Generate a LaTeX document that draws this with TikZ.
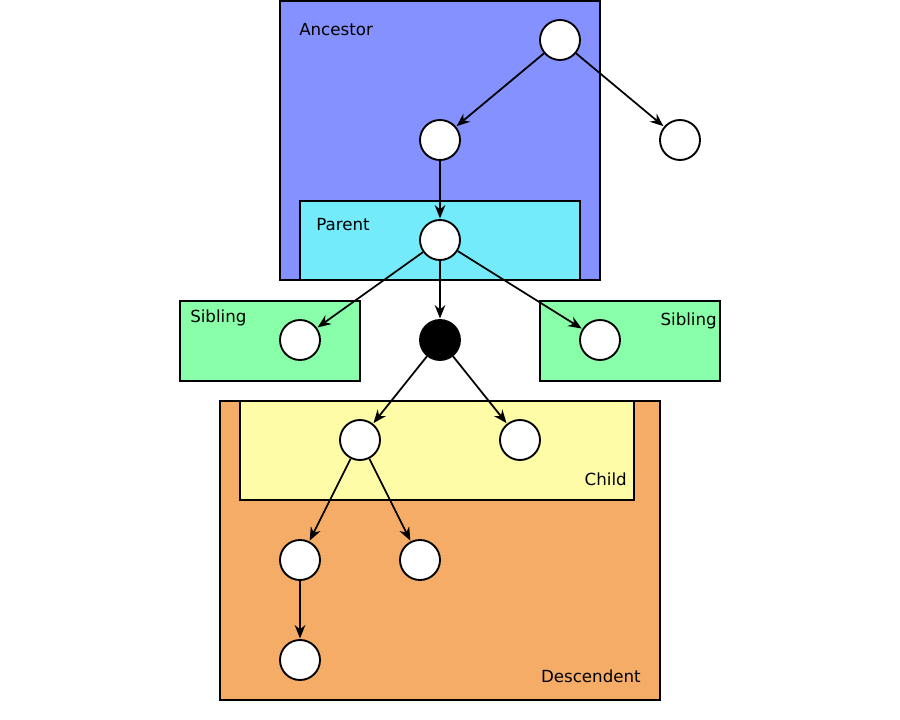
\documentclass[tikz,border=0pt]{standalone}
\usepackage{fontspec}
\setmainfont{DejaVu Sans}
\usetikzlibrary{arrows.meta}
\definecolor{ancestorc}{HTML}{8591FF}
\definecolor{parentc}{HTML}{73EBFB}
\definecolor{siblingc}{HTML}{88FFA8}
\definecolor{descc}{HTML}{F4AC66}
\definecolor{childc}{HTML}{FFFCA8}
\begin{document}
\begin{tikzpicture}[x=0.75pt,y=-0.75pt,
  region/.style={draw=black,line width=1.5pt},
  vert/.style={circle,draw=black,fill=white,line width=1.4pt,minimum size=30pt,inner sep=0pt},
  blackvert/.style={vert,fill=black},
  lbl/.style={font=\fontsize{12.5}{15}\selectfont,inner sep=0pt},
  edge/.style={-{Stealth[length=10pt,width=8pt]},line width=1.3pt,shorten >=0.5pt}]
\useasboundingbox (0,0) rectangle (900,720);
% regions
\draw[region,fill=ancestorc] (280,1) rectangle (600,280);
\draw[region,fill=parentc] (300,201) rectangle (580,280);
\draw[region,fill=siblingc] (180,301) rectangle (360,381);
\draw[region,fill=siblingc] (540,301) rectangle (720,381);
\draw[region,fill=descc] (220,401) rectangle (660,700);
\draw[region,fill=childc] (240,401) rectangle (634,500);
% labels
\node[lbl,anchor=west] (lanc) at (299,30) {Ancestor};
\node[lbl,anchor=west] (lpar) at (316,225) {Parent};
\node[lbl,anchor=west] (lsib1) at (190,318) {Sibling};
\node[lbl,anchor=east] (lsib2) at (717,321) {Sibling};
\node[lbl,anchor=east] (lchild) at (627,479) {Child};
\node[lbl,anchor=east] (ldesc) at (641,676) {Descendent};
% vertices
\node[vert] (a1) at (560,40) {};
\node[vert] (a2) at (440,140) {};
\node[vert] (a3) at (680,140) {};
\node[vert] (p) at (440,240) {};
\node[vert] (s1) at (300,340) {};
\node[blackvert] (x) at (440,340) {};
\node[vert] (s2) at (600,340) {};
\node[vert] (c1) at (360,440) {};
\node[vert] (c2) at (520,440) {};
\node[vert] (d1) at (300,560) {};
\node[vert] (d2) at (420,560) {};
\node[vert] (d3) at (300,660) {};
% edges
\draw[edge] (a1) -- (a2);
\draw[edge] (a1) -- (a3);
\draw[edge] (a2) -- (p);
\draw[edge] (p) -- (s1);
\draw[edge] (p) -- (x);
\draw[edge] (p) -- (s2);
\draw[edge] (x) -- (c1);
\draw[edge] (x) -- (c2);
\draw[edge] (c1) -- (d1);
\draw[edge] (c1) -- (d2);
\draw[edge] (d1) -- (d3);
\end{tikzpicture}
\end{document}
